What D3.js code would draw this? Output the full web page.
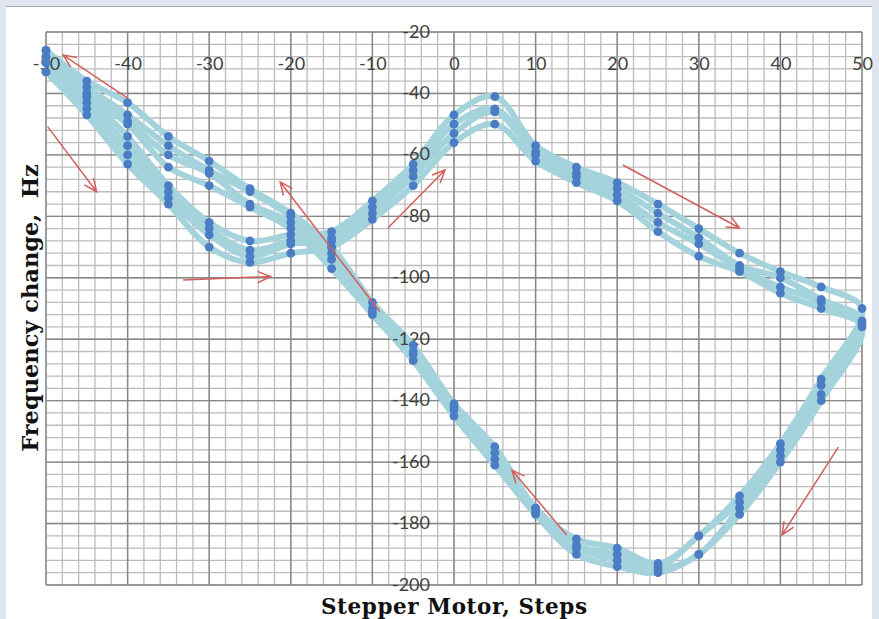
<!DOCTYPE html>
<html>
<head>
<meta charset="utf-8">
<script src="https://cdn.jsdelivr.net/npm/d3@7"></script>
<style>
  body { margin: 0; background: #dfe6f0; }
  svg { display: block; }
  .tick text { font-family: Lato, "Open Sans", sans-serif; font-size: 18px; fill: #404040; }
  .title { font-family: "DejaVu Serif", serif; font-weight: bold; font-size: 22.5px; fill: #111; }
</style>
</head>
<body>
<svg width="879" height="619"></svg>
<script>
(function (d3) {
    'use strict';

    // steps on the way out (-50 -> 50) and back (45 -> -50)
    const stepsOut = [-50, -45, -40, -35, -30, -25, -20, -15, -10, -5, 0, 5, 10, 15, 20, 25, 30, 35, 40, 45, 50];
    const stepsBack = [45, 40, 35, 30, 25, 20, 15, 10, 5, 0, -5, -10, -15, -20, -25, -30, -35, -40, -45, -50];

    // frequency change (Hz), four repeated cycles
    const cycle1Out = [-26, -41, -54, -70, -82, -88, -86, -85, -75, -63, -47, -41, -57, -64, -69, -76, -84, -92, -98, -103, -110];
    const cycle2Out = [-28, -43, -57, -72, -84, -91, -88, -87, -77, -65, -50, -45, -59, -66, -71, -79, -87, -96, -100, -107, -114];
    const cycle3Out = [-30, -45, -60, -74, -86, -93, -89, -88, -79, -67, -53, -46, -60, -67, -73, -82, -89, -97, -103, -108, -115];
    const cycle4Out = [-33, -47, -63, -76, -90, -95, -92, -90, -81, -70, -56, -50, -62, -69, -75, -85, -93, -98, -105, -110, -116];

    const cycle1Back = [-133, -154, -171, -184, -193, -188, -185, -175, -155, -141, -122, -108, -90, -79, -71, -62, -54, -43, -36, -26];
    const cycle2Back = [-135, -156, -173, -184, -194, -190, -187, -175, -157, -142, -124, -110, -92, -80, -72, -65, -57, -47, -38, -28];
    const cycle3Back = [-138, -158, -175, -190, -195, -192, -188, -176, -159, -143, -125, -111, -94, -82, -76, -66, -60, -49, -40, -30];
    const cycle4Back = [-140, -160, -177, -190, -196, -194, -190, -177, -161, -145, -127, -112, -97, -84, -77, -70, -64, -50, -41, -33];

    const xTicks = [-50, -40, -30, -20, -10, 0, 10, 20, 30, 40, 50];
    const yTicks = [-20, -40, -60, -80, -100, -120, -140, -160, -180, -200];

    // direction arrows: [fromStep, fromHz, toStep, toHz]
    const arrows = [
        [-40, -41.5, -47.9, -27.5],
        [-49.8, -50.8, -43.8, -72],
        [-33.2, -100.7, -22.5, -99.6],
        [-9.1, -111, -21.3, -68.8],
        [-8.1, -83.8, -1.1, -64.9],
        [20.7, -63.3, 35, -83.8],
        [47.1, -155.1, 40.2, -183.7],
        [13.8, -183.7, 7.1, -162.6]
    ];

    const svg = d3.select('svg');

    // page frame
    svg.append('rect')
        .attr('x', 6).attr('y', 6)
        .attr('width', 866).attr('height', 613)
        .attr('fill', '#fff');
    svg.append('line')
        .attr('x1', 6).attr('x2', 872)
        .attr('y1', 6.5).attr('y2', 6.5)
        .attr('stroke', '#a4a9b0');

    const x = d3.scaleLinear().domain([-50, 50]).range([46, 862]);
    const y = d3.scaleLinear().domain([-20, -200]).range([32, 585]);

    const grid = svg.append('g');

    grid.selectAll('.vminor').data(d3.range(-50, 51, 2))
        .enter().append('line')
        .attr('x1', d => x(d)).attr('x2', d => x(d))
        .attr('y1', y(-20)).attr('y2', y(-200))
        .attr('stroke', '#bcbcbc').attr('stroke-width', 1.3);

    grid.selectAll('.hminor').data(d3.range(-20, -201, -4))
        .enter().append('line')
        .attr('x1', x(-50)).attr('x2', x(50))
        .attr('y1', d => y(d)).attr('y2', d => y(d))
        .attr('stroke', '#bcbcbc').attr('stroke-width', 1.3);

    grid.selectAll('.vmajor').data(xTicks)
        .enter().append('line')
        .attr('x1', d => x(d)).attr('x2', d => x(d))
        .attr('y1', y(-20)).attr('y2', y(-200))
        .attr('stroke', '#878787').attr('stroke-width', 1.4);

    grid.selectAll('.hmajor').data(yTicks)
        .enter().append('line')
        .attr('x1', x(-50)).attr('x2', x(50))
        .attr('y1', d => y(d)).attr('y2', d => y(d))
        .attr('stroke', '#878787').attr('stroke-width', 1.4);

    // cycles
    const cycles = [
        [cycle1Out, cycle1Back],
        [cycle2Out, cycle2Back],
        [cycle3Out, cycle3Back],
        [cycle4Out, cycle4Back]
    ].map(([out, back]) =>
        stepsOut.map((s, i) => [s, out[i]]).concat(stepsBack.map((s, i) => [s, back[i]]))
    );

    const line = d3.line()
        .x(d => x(d[0]))
        .y(d => y(d[1]))
        .curve(d3.curveCatmullRom.alpha(0.5));

    svg.append('g').selectAll('path').data(cycles)
        .enter().append('path')
        .attr('d', line)
        .attr('fill', 'none')
        .attr('stroke', '#a4d3dc')
        .attr('stroke-width', 6)
        .attr('stroke-linejoin', 'round');

    // tick labels sit over the bands
    svg.append('g')
        .attr('transform', `translate(0,${y(-20)})`)
        .call(d3.axisBottom(x).tickValues(xTicks).tickSize(0).tickPadding(25))
        .call(g => g.select('.domain').remove());

    svg.append('g')
        .attr('transform', `translate(${x(0)},0)`)
        .call(d3.axisLeft(y).tickValues(yTicks).tickSize(0).tickPadding(24).tickFormat(d3.format('d')))
        .call(g => g.select('.domain').remove())
        .call(g => g.selectAll('text').attr('dy', '0.28em'));

    svg.selectAll('.tick text').text(function () { return this.textContent.replace('\u2212', '-'); });

    svg.append('g').selectAll('circle').data(cycles.flat())
        .enter().append('circle')
        .attr('cx', d => x(d[0]))
        .attr('cy', d => y(d[1]))
        .attr('r', 4.4)
        .attr('fill', '#4a7dc4');

    // red arrows
    const arrowG = svg.append('g')
        .attr('stroke', '#d25f5c')
        .attr('stroke-width', 1.5)
        .attr('fill', 'none');

    arrows.forEach(([x0, y0, x1, y1]) => {
        const ax = x(x0), ay = y(y0), bx = x(x1), by = y(y1);
        const ang = Math.atan2(by - ay, bx - ax);
        const len = 14, spread = 0.42;
        const w1 = [bx - len * Math.cos(ang - spread), by - len * Math.sin(ang - spread)];
        const w2 = [bx - len * Math.cos(ang + spread), by - len * Math.sin(ang + spread)];
        arrowG.append('path')
            .attr('d', `M${ax},${ay}L${bx},${by}M${w1[0]},${w1[1]}L${bx},${by}L${w2[0]},${w2[1]}`);
    });

    // axis titles
    svg.append('text')
        .attr('class', 'title')
        .attr('transform', 'translate(38,308) rotate(-90)')
        .attr('text-anchor', 'middle')
        .style('white-space', 'pre')
        .text('Frequency change,  Hz');

    svg.append('text')
        .attr('class', 'title')
        .attr('x', 454)
        .attr('y', 614)
        .attr('text-anchor', 'middle')
        .style('font-size', '21.5px')
        .attr('textLength', 266)
        .text('Stepper Motor, Steps');

}(d3));
</script>
</body>
</html>
